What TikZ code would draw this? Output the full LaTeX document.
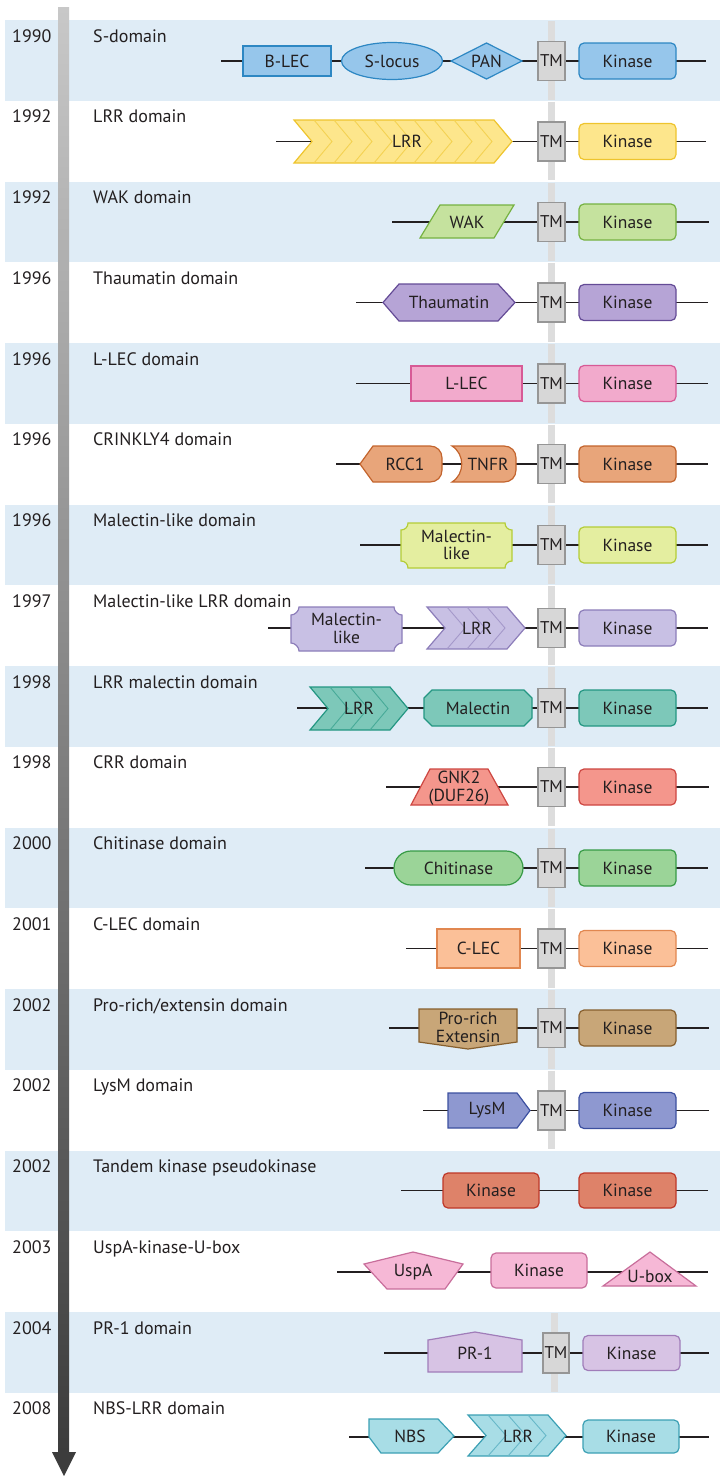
\documentclass[tikz,border=0pt]{standalone}
\usepackage{fontspec}
\setmainfont{PT Sans}
\usetikzlibrary{shapes.geometric}
\definecolor{band}{RGB}{223,236,246}
\definecolor{ink}{RGB}{35,31,32}
\definecolor{guidec}{RGB}{221,221,221}
\definecolor{tmf}{RGB}{215,215,215}
\definecolor{tmd}{RGB}{150,150,150}
\definecolor{fa}{RGB}{150,198,235}\definecolor{da}{RGB}{45,135,195}
\definecolor{fb}{RGB}{253,230,140}\definecolor{db}{RGB}{238,196,45}
\definecolor{fc}{RGB}{197,226,158}\definecolor{dc}{RGB}{118,178,66}
\definecolor{fd}{RGB}{182,164,214}\definecolor{dd}{RGB}{100,75,150}
\definecolor{fe}{RGB}{242,170,204}\definecolor{de}{RGB}{215,90,150}
\definecolor{ff}{RGB}{232,165,122}\definecolor{df}{RGB}{195,100,45}
\definecolor{fg}{RGB}{228,238,160}\definecolor{dg}{RGB}{180,205,55}
\definecolor{fh}{RGB}{200,192,228}\definecolor{dh}{RGB}{140,125,185}
\definecolor{fi}{RGB}{125,200,185}\definecolor{di}{RGB}{35,150,130}
\definecolor{fj}{RGB}{244,150,140}\definecolor{dj}{RGB}{205,70,65}
\definecolor{fk}{RGB}{155,212,152}\definecolor{dk}{RGB}{55,155,70}
\definecolor{fl}{RGB}{251,192,152}\definecolor{dl}{RGB}{225,135,80}
\definecolor{fm}{RGB}{200,166,120}\definecolor{dm}{RGB}{135,95,45}
\definecolor{fn}{RGB}{142,152,208}\definecolor{dn}{RGB}{60,80,160}
\definecolor{fo}{RGB}{222,130,105}\definecolor{do}{RGB}{190,55,40}
\definecolor{fp}{RGB}{246,184,214}\definecolor{dp}{RGB}{200,110,155}
\definecolor{fq}{RGB}{215,195,228}\definecolor{dq}{RGB}{160,125,185}
\definecolor{fr}{RGB}{168,221,230}\definecolor{dr}{RGB}{60,160,180}
\definecolor{bartop}{RGB}{200,200,200}
\definecolor{barbot}{RGB}{60,60,60}
\newcommand\dfont{\fontsize{17.5}{17.5}\selectfont}
\newcommand\tfont{\fontsize{17}{17}\selectfont}
\newcommand\lfont{\fontsize{18}{18}\selectfont}
\tikzset{
  bb/.style={line width=1.7pt, draw=ink},
  shp/.style={line width=1.2pt},
  guide/.style={line width=7pt, draw=guidec},
  txt/.style={font=\dfont, text=ink, inner sep=0pt, align=center},
  lbl/.style={font=\lfont, text=ink, anchor=base west, inner sep=0pt},
  dom/.style 2 args={draw=#2, fill=#1, line width=1.2pt, inner sep=0pt, font=\dfont, text=ink, align=center},
  kin/.style={rounded corners=5pt, minimum width=97pt, minimum height=36pt},
  tmbox/.style={draw=tmd, fill=tmf, line width=1.2pt, inner sep=0pt, minimum width=27pt, minimum height=39pt, font=\tfont, text=ink},
}
% LRR chevron: x-left, y-top, y-bottom, segments, fill, draw
\newcommand\lrrchev[6]{%
  \pgfmathsetmacro\lrM{(#2+#3)/2}%
  \pgfmathsetmacro\lrS{#1+20*#4}%
  \path[shp, draw=#6, fill=#5] (#1,#2) -- (\lrS,#2) -- ({\lrS+18},\lrM) -- (\lrS,#3) -- (#1,#3) -- ({#1+18},\lrM) -- cycle;
  \pgfmathtruncatemacro\lrN{#4-1}%
  \foreach \k in {1,...,\lrN} \draw[line width=0.9pt, #6!60!#5] ({#1+20*\k},#2) -- ({#1+20*\k+18},\lrM) -- ({#1+20*\k},#3);
}
\begin{document}
\begin{tikzpicture}[x=1pt,y=-1pt]
\useasboundingbox (0,0) rectangle (720,1476);
% bands
\fill[band] (5,20) rectangle (720,100.75);
\fill[band] (5,181.5) rectangle (720,262.25);
\fill[band] (5,343) rectangle (720,423.75);
\fill[band] (5,504.5) rectangle (720,585.25);
\fill[band] (5,666) rectangle (720,746.75);
\fill[band] (5,827.5) rectangle (720,908.25);
\fill[band] (5,989) rectangle (720,1069.75);
\fill[band] (5,1150.5) rectangle (720,1231.25);
\fill[band] (5,1312) rectangle (720,1392.75);
% membrane guide
\foreach \i in {0,...,13} \draw[guide] (551.5,{20+80.75*\i+1.2}) -- (551.5,{20+80.75*(\i+1)-1.2});
\draw[guide] (554.5,1313.2) -- (554.5,1391.5);
% years and labels
\node[lbl] (y1) at (12,42) {1990};           \node[lbl] (l1) at (93,42) {S-domain};
\node[lbl] (y2) at (12,122.75) {1992};       \node[lbl] (l2) at (93,122.75) {LRR domain};
\node[lbl] (y3) at (12,203.5) {1992};        \node[lbl] (l3) at (93,203.5) {WAK domain};
\node[lbl] (y4) at (12,284.25) {1996};       \node[lbl] (l4) at (93,284.25) {Thaumatin domain};
\node[lbl] (y5) at (12,365) {1996};          \node[lbl] (l5) at (93,365) {L-LEC domain};
\node[lbl] (y6) at (12,445.75) {1996};       \node[lbl] (l6) at (93,445.75) {CRINKLY4 domain};
\node[lbl] (y7) at (12,526.5) {1996};        \node[lbl] (l7) at (93,526.5) {Malectin-like domain};
\node[lbl] (y8) at (12,607.25) {1997};       \node[lbl] (l8) at (93,607.25) {Malectin-like LRR domain};
\node[lbl] (y9) at (12,688) {1998};          \node[lbl] (l9) at (93,688) {LRR malectin domain};
\node[lbl] (y10) at (12,768.75) {1998};      \node[lbl] (l10) at (93,768.75) {CRR domain};
\node[lbl] (y11) at (12,849.5) {2000};       \node[lbl] (l11) at (93,849.5) {Chitinase domain};
\node[lbl] (y12) at (12,930.25) {2001};      \node[lbl] (l12) at (93,930.25) {C-LEC domain};
\node[lbl] (y13) at (12,1011) {2002};        \node[lbl] (l13) at (93,1011) {Pro-rich/extensin domain};
\node[lbl] (y14) at (12,1091.75) {2002};     \node[lbl] (l14) at (93,1091.75) {LysM domain};
\node[lbl] (y15) at (12,1172.5) {2002};      \node[lbl] (l15) at (93,1172.5) {Tandem kinase pseudokinase};
\node[lbl] (y16) at (12,1253.25) {2003};     \node[lbl] (l16) at (93,1253.25) {UspA-kinase-U-box};
\node[lbl] (y17) at (12,1334) {2004};        \node[lbl] (l17) at (93,1334) {PR-1 domain};
\node[lbl] (y18) at (12,1414.75) {2008};     \node[lbl] (l18) at (93,1414.75) {NBS-LRR domain};

% ---- Row 1: S-domain
\coordinate (a0) at (221,61); \coordinate (a1) at (706,61);
\draw[bb] (a0) -- (a1);
\node[dom={fa}{da}, minimum width=88pt, minimum height=30pt] (blec) at (287,61) {B-LEC};
\node[dom={fa}{da}, ellipse, minimum width=101pt, minimum height=37pt] (slocus) at (392,61) {S-locus};
\path[shp, draw=da, fill=fa] (451,61) -- (486.5,43) -- (522,61) -- (486.5,79) -- cycle;
\node[txt] (pan) at (486.5,61) {PAN};
\node[tmbox] (tm1) at (551.5,61) {TM};
\node[dom={fa}{da}, kin] (k1) at (627.5,61) {Kinase};

% ---- Row 2: LRR
\coordinate (b0) at (276,141.5); \coordinate (b1) at (706,141.5);
\draw[bb] (b0) -- (b1);
\lrrchev{294}{120}{163}{10}{fb}{db}
\node[txt] (lrr2) at (407,141.5) {LRR};
\node[tmbox] (tm2) at (551.5,141.5) {TM};
\node[dom={fb}{db}, kin] (k2) at (627.5,141.5) {Kinase};

% ---- Row 3: WAK
\coordinate (c0) at (392,222); \coordinate (c1) at (709,222);
\draw[bb] (c0) -- (c1);
\path[shp, draw=dc, fill=fc] (420,238) -- (440,205) -- (514,205) -- (494,238) -- cycle;
\node[txt] (wak) at (467,222) {WAK};
\node[tmbox] (tm3) at (551.5,222) {TM};
\node[dom={fc}{dc}, kin] (k3) at (627.5,222) {Kinase};

% ---- Row 4: Thaumatin
\coordinate (d0) at (356,302.5); \coordinate (d1) at (708,302.5);
\draw[bb] (d0) -- (d1);
\path[shp, draw=dd, fill=fd] (383,302.5) -- (399,284) -- (498,284) -- (515,302.5) -- (498,321) -- (399,321) -- cycle;
\node[txt] (thau) at (449,302.5) {Thaumatin};
\node[tmbox] (tm4) at (551.5,302.5) {TM};
\node[dom={fd}{dd}, kin] (k4) at (627.5,302.5) {Kinase};

% ---- Row 5: L-LEC
\coordinate (e0) at (356,383.5); \coordinate (e1) at (708,383.5);
\draw[bb] (e0) -- (e1);
\node[dom={fe}{de}, minimum width=111pt, minimum height=35pt] (llec) at (466.5,383.5) {L-LEC};
\node[tmbox] (tm5) at (551.5,383.5) {TM};
\node[dom={fe}{de}, kin] (k5) at (627.5,383.5) {Kinase};

% ---- Row 6: CRINKLY4
\coordinate (f0) at (336,464); \coordinate (f1) at (708,464);
\draw[bb] (f0) -- (f1);
\path[shp, draw=df, fill=ff] (360,464) -- (373,446) -- (430,446) .. controls (437,446) and (442,451) .. (442,458) -- (442,470) .. controls (442,477) and (437,482) .. (430,482) -- (373,482) -- cycle;
\node[txt] (rcc) at (405,464) {RCC1};
\path[shp, draw=df, fill=ff] (452,446) -- (504,446) .. controls (511,446) and (516,451) .. (516,458) -- (516,470) .. controls (516,477) and (511,482) .. (504,482) -- (452,482) .. controls (465,474) and (465,454) .. (452,446) -- cycle;
\node[txt] (tnfr) at (488,464) {TNFR};
\node[tmbox] (tm6) at (551.5,464) {TM};
\node[dom={ff}{df}, kin] (k6) at (627.5,464) {Kinase};

% ---- Row 7: Malectin-like
\coordinate (g0) at (360,545); \coordinate (g1) at (708,545);
\draw[bb] (g0) -- (g1);
\path[shp, draw=dg, fill=fg] (408,523) -- (505,523) .. controls (505,527) and (508,530) .. (512,530) -- (512,561) .. controls (508,561) and (505,564) .. (505,568) -- (408,568) .. controls (408,564) and (405,561) .. (401,561) -- (401,530) .. controls (405,530) and (408,527) .. (408,523) -- cycle;
\node[txt] (mal7) at (456.5,545) {Malectin-\\like};
\node[tmbox] (tm7) at (551.5,545) {TM};
\node[dom={fg}{dg}, kin] (k7) at (627.5,545) {Kinase};

% ---- Row 8: Malectin-like LRR
\coordinate (h0) at (268,628); \coordinate (h1) at (708,628);
\draw[bb] (h0) -- (h1);
\path[shp, draw=dh, fill=fh] (299,607) -- (394,607) .. controls (394,611) and (398,615) .. (402,615) -- (402,643) .. controls (398,643) and (394,647) .. (394,651) -- (299,651) .. controls (299,647) and (295,643) .. (291,643) -- (291,615) .. controls (295,615) and (299,611) .. (299,607) -- cycle;
\node[txt] (mal8) at (346.5,628.5) {Malectin-\\like};
\lrrchev{427}{607}{649}{4}{fh}{dh}
\node[txt] (lrr8) at (477,628) {LRR};
\node[tmbox] (tm8) at (551.5,628) {TM};
\node[dom={fh}{dh}, kin] (k8) at (627.5,628) {Kinase};

% ---- Row 9: LRR malectin
\coordinate (i0) at (297,708); \coordinate (i1) at (708,708);
\draw[bb] (i0) -- (i1);
\lrrchev{310}{687}{730}{4}{fi}{di}
\node[txt] (lrr9) at (359,708) {LRR};
\path[shp, draw=di, fill=fi] (432,690) -- (524,690) -- (532,698) -- (532,718) -- (524,726) -- (432,726) -- (424,718) -- (424,698) -- cycle;
\node[txt] (mal9) at (478,708) {Malectin};
\node[tmbox] (tm9) at (551.5,708) {TM};
\node[dom={fi}{di}, kin] (k9) at (627.5,708) {Kinase};

% ---- Row 10: CRR
\coordinate (j0) at (386,787); \coordinate (j1) at (709,787);
\draw[bb] (j0) -- (j1);
\path[shp, draw=dj, fill=fj] (411,805) -- (430,769) -- (488,769) -- (508,805) -- cycle;
\node[txt] (gnk) at (459,788) {GNK2\\(DUF26)};
\node[tmbox] (tm10) at (551.5,787) {TM};
\node[dom={fj}{dj}, kin] (k10) at (627.5,787) {Kinase};

% ---- Row 11: Chitinase
\coordinate (k0) at (365,868); \coordinate (kk1) at (708,868);
\draw[bb] (k0) -- (kk1);
\node[dom={fk}{dk}, rounded corners=17pt, minimum width=129pt, minimum height=34pt] (chit) at (458.5,868) {Chitinase};
\node[tmbox] (tm11) at (551.5,868) {TM};
\node[dom={fk}{dk}, kin] (k11) at (627.5,868) {Kinase};

% ---- Row 12: C-LEC
\coordinate (l0) at (406,948.5); \coordinate (ll1) at (708,948.5);
\draw[bb] (l0) -- (ll1);
\node[dom={fl}{dl}, minimum width=83pt, minimum height=39pt] (clec) at (478.5,948.5) {C-LEC};
\node[tmbox] (tm12) at (551.5,948.5) {TM};
\node[dom={fl}{dl}, kin] (k12) at (627.5,948.5) {Kinase};

% ---- Row 13: Pro-rich/extensin
\coordinate (m0) at (389,1028); \coordinate (m1) at (709,1028);
\draw[bb] (m0) -- (m1);
\path[shp, draw=dm, fill=fm] (419,1009) -- (517,1009) -- (517,1042) -- (468,1049) -- (419,1042) -- cycle;
\node[txt] (pro) at (468,1027.5) {Pro-rich\\Extensin};
\node[tmbox] (tm13) at (551.5,1028) {TM};
\node[dom={fm}{dm}, kin] (k13) at (627.5,1028) {Kinase};

% ---- Row 14: LysM
\coordinate (n0) at (423,1110.5); \coordinate (n1) at (709,1110.5);
\draw[bb] (n0) -- (n1);
\path[shp, draw=dn, fill=fn] (448,1093) -- (517,1093) -- (530,1110.5) -- (517,1128) -- (448,1128) -- cycle;
\node[txt] (lysm) at (487,1110.5) {LysM};
\node[tmbox] (tm14) at (551.5,1110.5) {TM};
\node[dom={fn}{dn}, kin] (k14) at (627.5,1110.5) {Kinase};

% ---- Row 15: Tandem kinase
\coordinate (o0) at (401,1190.5); \coordinate (o1) at (708,1190.5);
\draw[bb] (o0) -- (o1);
\node[dom={fo}{do}, kin, minimum width=96pt, minimum height=35pt] (k15a) at (491,1190.5) {Kinase};
\node[dom={fo}{do}, kin, minimum height=35pt] (k15b) at (627.5,1190.5) {Kinase};

% ---- Row 16: UspA-kinase-U-box
\coordinate (p0) at (337,1272); \coordinate (p1) at (708,1272);
\draw[bb] (p0) -- (p1);
\path[shp, draw=dp, fill=fp] (413,1252) -- (463,1264) -- (445,1289) -- (387,1289) -- (364,1264) -- cycle;
\node[txt] (uspa) at (413,1272) {UspA};
\node[dom={fp}{dp}, kin, minimum width=96pt, minimum height=35pt] (k16) at (539,1270.5) {Kinase};
\path[shp, draw=dp, fill=fp] (603,1286) -- (650,1252) -- (696,1286) -- cycle;
\node[txt] (ubox) at (650,1276) {U-box};

% ---- Row 17: PR-1
\coordinate (q0) at (384,1353); \coordinate (q1) at (709,1353);
\draw[bb] (q0) -- (q1);
\path[shp, draw=dq, fill=fq] (428,1340) -- (475,1332) -- (522,1340) -- (522,1372) -- (428,1372) -- cycle;
\node[txt] (pr1) at (475,1353) {PR-1};
\node[tmbox, minimum width=26pt, minimum height=40pt] (tm17) at (556,1353) {TM};
\node[dom={fq}{dq}, kin, minimum height=35pt] (k17) at (631.5,1353) {Kinase};

% ---- Row 18: NBS-LRR
\coordinate (r0) at (349,1437); \coordinate (r1) at (709,1437);
\draw[bb] (r0) -- (r1);
\path[shp, draw=dr, fill=fr] (369,1419) -- (438,1419) -- (454,1436) -- (438,1453) -- (381,1453) -- (369,1437) -- cycle;
\node[txt] (nbs) at (410,1436) {NBS};
\lrrchev{468}{1415}{1456}{4}{fr}{dr}
\node[txt] (lrr18) at (518,1436) {LRR};
\node[dom={fr}{dr}, kin, minimum width=96pt, minimum height=33pt] (k18) at (631,1436.5) {Kinase};

% ---- timeline arrow
\shade[top color=bartop, bottom color=barbot] (58,7) rectangle (69,1453);
\fill[barbot] (52,1452) -- (76,1452) -- (64,1476) -- cycle;
\end{tikzpicture}
\end{document}
